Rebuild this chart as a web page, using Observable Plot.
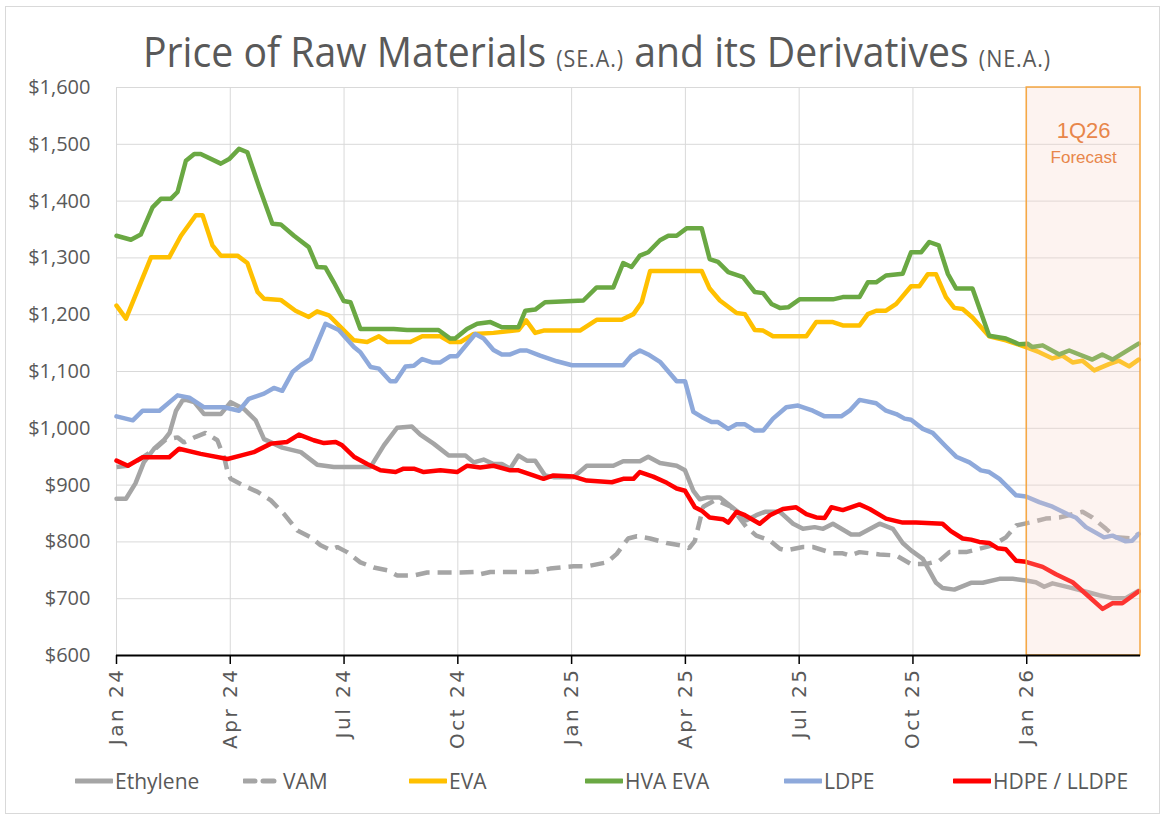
<!DOCTYPE html>
<html>
<head>
<meta charset="utf-8">
<script src="https://cdn.jsdelivr.net/npm/d3@7"></script>
<script src="https://cdn.jsdelivr.net/npm/@observablehq/plot@0.6"></script>
<style>
  html, body { margin: 0; padding: 0; background: #fff; }
  #wrap { position: relative; width: 1167px; height: 818px; overflow: hidden; }
  #frame { position: absolute; left: 5px; top: 6px; width: 1155px; height: 808px; border: 1px solid #D9D9D9; box-sizing: border-box; pointer-events: none; }
  #title { position: absolute; left: 143px; top: 22px; white-space: nowrap; font-family: "Open Sans", sans-serif; font-size: 42px; line-height: normal; color: #595959; transform: scaleX(0.933); transform-origin: 0 0; }
  #title small { font-size: 23px; letter-spacing: 1px; }
  #chart { position: absolute; left: 0; top: 0; }
  .leg { position: absolute; top: 766px; height: 30px; display: flex; align-items: center; font-family: "Open Sans", sans-serif; font-size: 21px; color: #595959; white-space: nowrap; }
  .leg svg { margin-right: 2px; }
</style>
</head>
<body>
<div id="wrap">
  <div id="chart"></div>
  <div id="title">Price of Raw Materials <small>(SE.A.)</small> and its Derivatives <small>(NE.A.)</small></div>
  <div id="legend"></div>
  <div id="frame"></div>
</div>
<script>
// x values are months since Jan 2024
const tickMonths = [0, 3, 6, 9, 12, 15, 18, 21, 24];
const tickLabels = ["Jan 24", "Apr 24", "Jul 24", "Oct 24", "Jan 25", "Apr 25", "Jul 25", "Oct 25", "Jan 26"];
const yTicks = [600, 700, 800, 900, 1000, 1100, 1200, 1300, 1400, 1500, 1600];

const seriesNames = ["Ethylene", "VAM", "EVA", "HVA EVA", "LDPE", "HDPE / LLDPE"];

const ethylene = [[0,876],[0.25,876],[0.5,903],[0.72,940],[0.99,964],[1.26,980],[1.4,992],[1.57,1031],[1.74,1049],[1.83,1050],[2.05,1046],[2.31,1025],[2.75,1025],[3.01,1046],[3.36,1034],[3.67,1014],[3.89,981],[4.37,966],[4.86,958],[5.29,936],[5.73,932],[6.7,932],[7.05,970],[7.4,1001],[7.79,1003],[8.01,989],[8.36,973],[8.76,952],[9.2,952],[9.42,940],[9.68,945],[9.94,937],[10.16,937],[10.38,929],[10.6,952],[10.82,943],[11.04,943],[11.3,917],[11.52,914],[12.05,914],[12.4,934],[13.1,934],[13.36,942],[13.8,942],[14.02,950],[14.33,939],[14.77,934],[14.99,926],[15.21,890],[15.38,875],[15.56,878],[15.91,878],[16.35,855],[16.61,838],[16.87,847],[17.1,853],[17.49,853],[17.84,832],[18.1,823],[18.41,826],[18.63,823],[18.89,832],[19.37,813],[19.59,813],[20.12,832],[20.47,823],[20.73,798],[20.95,785],[21.26,770],[21.61,728],[21.78,719],[22.09,716],[22.53,728],[22.84,728],[23.28,735],[23.63,735],[23.98,732],[24.24,729],[24.46,721],[24.68,727],[25.12,720],[25.47,714],[25.91,706],[26.26,701],[26.61,701],[26.95,714]];

const vam = [[0,932],[0.3,934],[0.6,945],[0.99,962],[1.3,980],[1.61,984],[1.78,975],[2.09,985],[2.35,992],[2.66,979],[2.85,946],[2.93,923],[3.01,911],[3.36,899],[3.72,888],[4.07,873],[4.42,849],[4.77,820],[5.12,808],[5.38,794],[5.64,786],[5.82,791],[6.08,782],[6.43,764],[6.78,755],[7.14,750],[7.4,741],[7.84,741],[8.19,746],[9.07,746],[9.42,747],[9.59,743],[9.86,747],[11.0,747],[11.43,753],[12.05,757],[12.4,757],[12.93,764],[13.19,779],[13.49,806],[13.72,810],[14.07,806],[14.51,798],[14.86,794],[15.1,789],[15.25,802],[15.38,837],[15.47,862],[15.8,874],[16.2,862],[16.61,826],[16.87,811],[17.21,803],[17.49,788],[17.66,785],[18.1,791],[18.36,791],[18.89,780],[19.15,780],[19.33,776],[19.59,782],[20.12,778],[20.56,776],[20.95,761],[21.35,761],[21.7,767],[21.96,782],[22.4,782],[22.75,788],[23.1,794],[23.45,808],[23.72,829],[24.15,835],[24.5,841],[24.86,843],[25.47,853],[25.73,843],[26.09,823],[26.35,808],[26.78,806],[26.95,814]];

const eva = [[0,1216],[0.25,1193],[0.91,1301],[1.39,1301],[1.7,1339],[2.09,1375],[2.27,1375],[2.53,1322],[2.75,1304],[3.19,1304],[3.45,1291],[3.72,1240],[3.89,1228],[4.33,1226],[4.72,1207],[5.07,1196],[5.29,1206],[5.6,1199],[5.91,1178],[6.26,1155],[6.61,1152],[6.92,1162],[7.14,1152],[7.75,1152],[8.06,1162],[8.54,1162],[8.8,1152],[9.07,1152],[9.42,1166],[9.94,1168],[10.6,1173],[10.8,1190],[11.04,1168],[11.26,1172],[12.22,1172],[12.66,1191],[13.32,1191],[13.63,1201],[13.85,1222],[14.07,1277],[15.43,1277],[15.64,1246],[15.91,1225],[16.35,1203],[16.57,1201],[16.83,1173],[17.05,1172],[17.31,1162],[18.19,1162],[18.45,1187],[18.89,1187],[19.15,1181],[19.59,1181],[19.81,1201],[20.03,1207],[20.29,1207],[20.56,1219],[20.95,1250],[21.17,1250],[21.39,1271],[21.61,1271],[21.87,1231],[22.09,1212],[22.31,1210],[22.57,1195],[23.01,1162],[23.45,1155],[23.98,1143],[24.33,1134],[24.68,1123],[24.94,1128],[25.21,1116],[25.47,1119],[25.78,1102],[26.17,1113],[26.43,1119],[26.7,1109],[26.95,1121]];

const hvaEva = [[0,1339],[0.38,1332],[0.64,1341],[0.95,1389],[1.17,1404],[1.43,1404],[1.61,1416],[1.83,1471],[2.05,1483],[2.22,1483],[2.75,1466],[2.97,1474],[3.23,1492],[3.45,1486],[3.76,1425],[4.11,1360],[4.33,1359],[4.68,1339],[5.07,1319],[5.29,1284],[5.51,1283],[5.73,1257],[5.99,1224],[6.17,1222],[6.43,1175],[7.31,1175],[7.66,1173],[8.49,1173],[8.8,1158],[8.93,1158],[9.24,1175],[9.51,1184],[9.86,1187],[10.16,1178],[10.6,1178],[10.78,1207],[11.04,1209],[11.3,1222],[12.31,1225],[12.66,1248],[13.1,1248],[13.36,1291],[13.58,1284],[13.8,1304],[14.02,1310],[14.33,1331],[14.55,1339],[14.77,1339],[15.03,1352],[15.43,1352],[15.64,1298],[15.86,1293],[16.13,1275],[16.52,1266],[16.83,1240],[17.05,1238],[17.27,1219],[17.49,1212],[17.71,1213],[18.01,1227],[18.89,1227],[19.15,1231],[19.59,1231],[19.81,1257],[20.03,1257],[20.29,1269],[20.73,1272],[20.95,1310],[21.22,1310],[21.43,1328],[21.68,1322],[21.92,1272],[22.14,1246],[22.57,1246],[23.01,1163],[23.45,1158],[23.8,1148],[24.02,1149],[24.15,1143],[24.42,1146],[24.86,1130],[25.12,1137],[25.73,1121],[25.99,1130],[26.26,1121],[26.95,1149]];

const ldpe = [[0,1021],[0.43,1014],[0.69,1031],[1.13,1031],[1.61,1058],[1.92,1054],[2.31,1037],[2.84,1037],[3.23,1031],[3.49,1052],[3.89,1061],[4.15,1071],[4.37,1066],[4.64,1099],[4.86,1111],[5.12,1122],[5.51,1184],[5.86,1173],[6.26,1143],[6.43,1134],[6.7,1108],[6.92,1105],[7.22,1083],[7.36,1083],[7.62,1109],[7.84,1110],[8.06,1122],[8.32,1116],[8.54,1116],[8.8,1127],[8.98,1127],[9.46,1166],[9.68,1158],[9.94,1138],[10.16,1130],[10.38,1130],[10.64,1137],[10.82,1137],[11.17,1128],[11.61,1118],[12.01,1111],[13.36,1111],[13.58,1128],[13.8,1137],[14.02,1130],[14.33,1117],[14.77,1083],[14.99,1083],[15.21,1029],[15.43,1020],[15.69,1011],[15.86,1011],[16.13,999],[16.35,1007],[16.57,1007],[16.83,996],[17.05,996],[17.31,1017],[17.66,1037],[17.97,1040],[18.36,1031],[18.67,1021],[19.11,1021],[19.33,1031],[19.59,1050],[20.03,1044],[20.29,1031],[20.56,1025],[20.78,1017],[20.95,1015],[21.26,999],[21.52,992],[21.87,968],[22.14,950],[22.49,940],[22.79,926],[23.01,923],[23.28,911],[23.72,882],[23.98,880],[24.33,870],[24.68,862],[25.07,849],[25.29,843],[25.56,826],[26.04,808],[26.26,811],[26.61,801],[26.78,802],[26.95,814]];

const hdpe = [[0,943],[0.3,934],[0.69,949],[1.39,949],[1.65,964],[2.22,955],[2.93,946],[3.27,952],[3.62,958],[4.07,973],[4.5,976],[4.81,989],[5.2,979],[5.47,974],[5.78,976],[5.95,970],[6.26,950],[6.61,937],[6.96,926],[7.36,923],[7.57,929],[7.84,929],[8.1,923],[8.54,926],[8.98,923],[9.24,934],[9.59,931],[9.94,934],[10.38,926],[10.6,926],[10.99,917],[11.26,911],[11.52,917],[12.05,915],[12.4,908],[13.06,905],[13.36,911],[13.63,911],[13.8,923],[14.15,915],[14.51,904],[14.77,894],[14.99,890],[15.25,861],[15.43,855],[15.64,843],[15.99,840],[16.13,834],[16.35,853],[16.57,847],[16.96,832],[17.23,847],[17.57,858],[17.92,861],[18.19,849],[18.45,843],[18.67,842],[18.85,861],[19.15,856],[19.59,866],[19.86,858],[20.29,841],[20.73,834],[21.08,834],[21.78,832],[22.0,819],[22.31,806],[22.53,804],[22.75,800],[23.01,798],[23.23,789],[23.45,787],[23.72,767],[23.98,765],[24.42,756],[24.77,743],[25.21,729],[25.65,703],[26.0,682],[26.26,692],[26.52,692],[26.95,713]];

const forecastBox = [{x1: 24, x2: 27, y1: 600, y2: 1600}];
const forecastText = [{label: "1Q26", x: 25.5, y: 1523, size: 22}, {label: "Forecast", x: 25.5, y: 1476, size: 17}];

const colors = {"Ethylene": "#A5A5A5", "VAM": "#A5A5A5", "EVA": "#FFC000", "HVA EVA": "#6AA843", "LDPE": "#8EA9DB", "HDPE / LLDPE": "#FF0000"};
const dash = "14,8";
const fontMain = "'Open Sans', sans-serif";
const fontWide = "'DejaVu Sans', Verdana, sans-serif";

const lineOpts = (name, extra = {}) => ({x: d => d[0], y: d => d[1], stroke: colors[name], strokeWidth: 4.5, strokeLinejoin: "round", ...extra});

const chart = Plot.plot({
  width: 1167,
  height: 818,
  marginLeft: 116,
  marginRight: 27,
  marginTop: 87,
  marginBottom: 163,
  style: {background: "transparent", fontFamily: fontMain},
  x: {domain: [0, 27], axis: null},
  y: {domain: [600, 1600], axis: null},
  marks: [
    Plot.gridY(yTicks, {stroke: "#D9D9D9", strokeOpacity: 1, strokeWidth: 1}),
    Plot.gridX(tickMonths, {stroke: "#D9D9D9", strokeOpacity: 1, strokeWidth: 1}),
    Plot.line(ethylene, lineOpts("Ethylene")),
    Plot.line(vam, lineOpts("VAM", {strokeDasharray: dash, strokeLinejoin: "miter", strokeLinecap: "butt"})),
    Plot.line(eva, lineOpts("EVA")),
    Plot.line(hvaEva, lineOpts("HVA EVA")),
    Plot.line(ldpe, lineOpts("LDPE")),
    Plot.line(hdpe, lineOpts("HDPE / LLDPE")),
    Plot.rect(forecastBox, {x1: "x1", x2: "x2", y1: "y1", y2: "y2", fill: "#F9D0C4", fillOpacity: 0.25, stroke: "#F5A742", strokeWidth: 1.5}),
    Plot.text(forecastText, {x: "x", y: "y", text: "label", fontSize: "size", fill: "#E8864A", fontFamily: "'Liberation Sans', Arial, sans-serif"}),
    Plot.ruleY([600], {stroke: "#000", strokeWidth: 2}),
    Plot.axisY(yTicks, {tickSize: 0, tickPadding: 26, tickFormat: d => "$" + d3.format(",")(d), fontSize: 20, fill: "#595959", fontFamily: fontMain}),
    Plot.axisX(tickMonths, {tickSize: 9, tickPadding: 3, tickRotate: -90, stroke: "#000", strokeWidth: 1.5, fill: "#595959", fontSize: 20, fontFamily: fontWide, tickFormat: d => tickLabels[tickMonths.indexOf(d)], label: null, ariaLabel: "x-axis"})
  ]
});
document.getElementById("chart").appendChild(chart);
// letter-spaced x tick labels, as in the reference
d3.select(chart).selectAll("g[aria-label='x-axis tick label'] text").attr("letter-spacing", "2.5px");

// legend
const legendItems = [
  {name: "Ethylene", x: 75, dashed: false},
  {name: "VAM", x: 243, dashed: true},
  {name: "EVA", x: 409, dashed: false},
  {name: "HVA EVA", x: 585, dashed: false},
  {name: "LDPE", x: 784, dashed: false},
  {name: "HDPE / LLDPE", x: 953, dashed: false}
];
const legend = document.getElementById("legend");
for (const it of legendItems) {
  const div = document.createElement("div");
  div.className = "leg";
  div.style.left = it.x + "px";
  const c = colors[it.name];
  div.innerHTML = `<svg width="38" height="10"><line x1="1" y1="5" x2="37" y2="5" stroke="${c}" stroke-width="5" stroke-linecap="round" ${it.dashed ? 'stroke-dasharray="11,8" stroke-linecap="butt"' : ''}/></svg><span>${it.name}</span>`;
  legend.appendChild(div);
}
</script>
</body>
</html>
